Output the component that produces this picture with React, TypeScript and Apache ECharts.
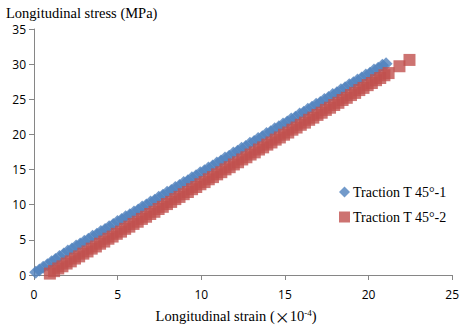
import React, { useEffect, useRef } from "react";
import * as echarts from "echarts";

// Longitudinal strain (×10^-4) and stress (MPa) for the two 45° traction tests
const strainT1 = [
  0.1, 0.32, 0.55, 0.8, 1.05, 1.28, 1.52, 1.78, 2.02, 2.27, 2.52, 2.76, 3.01, 3.25, 3.5, 3.76,
  4.0, 4.25, 4.49, 4.74, 4.99, 5.24, 5.48, 5.73, 5.98, 6.23, 6.47, 6.72, 6.97, 7.22, 7.46, 7.71,
  7.96, 8.21, 8.45, 8.7, 8.95, 9.2, 9.44, 9.69, 9.94, 10.19, 10.43, 10.68, 10.93, 11.18, 11.42,
  11.67, 11.92, 12.17, 12.41, 12.66, 12.91, 13.16, 13.4, 13.65, 13.9, 14.15, 14.39, 14.64, 14.89,
  15.14, 15.38, 15.63, 15.88, 16.13, 16.37, 16.62, 16.87, 17.12, 17.36, 17.61, 17.86, 18.11,
  18.35, 18.6, 18.85, 19.1, 19.34, 19.59, 19.84, 20.09, 20.33, 20.58, 20.83, 21.05,
];
const stressT1 = [
  0.4, 0.72, 1.12, 1.47, 1.9, 2.21, 2.62, 3.0, 3.42, 3.7, 4.12, 4.4, 4.8, 5.09, 5.5, 5.8,
  6.2, 6.48, 6.88, 7.18, 7.6, 7.88, 8.28, 8.56, 8.98, 9.26, 9.68, 9.95, 10.38, 10.64, 11.07, 11.34,
  11.77, 12.03, 12.46, 12.73, 13.16, 13.42, 13.85, 14.12, 14.55, 14.83, 15.23, 15.5, 15.95, 16.21,
  16.63, 16.9, 17.34, 17.6, 18.03, 18.3, 18.73, 18.99, 19.42, 19.68, 20.12, 20.38, 20.8, 21.08,
  21.5, 21.77, 22.19, 22.46, 22.9, 23.16, 23.58, 23.85, 24.29, 24.55, 24.97, 25.24, 25.68, 25.94,
  26.37, 26.63, 27.07, 27.34, 27.76, 28.02, 28.47, 28.72, 29.15, 29.4, 29.83, 30.05,
];
const strainT2 = [
  0.95, 1.2, 1.45, 1.7, 1.95, 2.2, 2.45, 2.7, 2.95, 3.2, 3.45, 3.7, 3.95, 4.2, 4.45, 4.7, 4.95,
  5.2, 5.45, 5.7, 5.95, 6.2, 6.45, 6.7, 6.95, 7.2, 7.45, 7.7, 7.95, 8.2, 8.45, 8.7, 8.95, 9.2,
  9.45, 9.7, 9.95, 10.2, 10.45, 10.7, 10.95, 11.2, 11.45, 11.7, 11.95, 12.2, 12.45, 12.7, 12.95,
  13.2, 13.45, 13.7, 13.95, 14.2, 14.45, 14.7, 14.95, 15.2, 15.45, 15.7, 15.95, 16.2, 16.45,
  16.7, 16.95, 17.2, 17.45, 17.7, 17.95, 18.2, 18.45, 18.7, 18.95, 19.2, 19.45, 19.7, 19.95,
  20.2, 20.45, 20.7, 20.95, 21.2, 21.85, 22.45,
];
const stressT2 = [
  0.2, 0.55, 0.93, 1.24, 1.63, 1.94, 2.34, 2.65, 3.04, 3.35, 3.75, 4.06, 4.45, 4.76, 5.16, 5.47,
  5.86, 6.17, 6.57, 6.88, 7.27, 7.58, 7.98, 8.29, 8.68, 8.99, 9.39, 9.7, 10.09, 10.4, 10.8, 11.11,
  11.5, 11.81, 12.21, 12.52, 12.91, 13.22, 13.62, 13.93, 14.32, 14.63, 15.03, 15.34, 15.73, 16.04,
  16.44, 16.75, 17.14, 17.45, 17.85, 18.16, 18.55, 18.86, 19.26, 19.57, 19.96, 20.27, 20.67,
  20.98, 21.37, 21.68, 22.08, 22.39, 22.78, 23.09, 23.49, 23.8, 24.19, 24.5, 24.9, 25.21, 25.6,
  25.91, 26.31, 26.62, 27.01, 27.32, 27.72, 28.03, 28.42, 28.73, 29.7, 30.6,
];
const seriesNames = ["Traction T 45°-1", "Traction T 45°-2"];
const xTicks = [0, 25, 5];
const yTicks = [0, 35, 5];

const pairs = (xs: number[], ys: number[]) => xs.map((x, i) => [x, ys[i]]);

export default function App() {
  const ref = useRef<HTMLDivElement>(null);

  useEffect(() => {
    if (!ref.current) return;
    const chart = echarts.init(ref.current, undefined, { renderer: "svg" });
    const serif = "'Liberation Serif', 'Times New Roman', serif";
    const tickFont = "'Open Sans', 'Noto Sans', sans-serif";
    const axisColor = "#868686";

    chart.setOption({
      animation: false,
      backgroundColor: "#ffffff",
      title: {
        text: "Longitudinal stress (MPa)",
        left: 1,
        top: 0,
        textStyle: { fontFamily: serif, fontSize: 14.5, fontWeight: "normal", color: "#000" },
      },
      legend: {
        orient: "vertical",
        left: 334,
        top: 180,
        itemWidth: 11,
        itemHeight: 11,
        itemGap: 11,
        textStyle: { fontFamily: serif, fontSize: 14, color: "#000", padding: [0, 0, 0, -2] },
        data: [
          { name: seriesNames[0], icon: "diamond" },
          { name: seriesNames[1], icon: "rect" },
        ],
      },
      grid: { left: 34, right: 9, top: 29, bottom: 60 },
      xAxis: {
        type: "value",
        min: xTicks[0],
        max: xTicks[1],
        interval: xTicks[2],
        name: "{t|Longitudinal strain (}{x|×}{t|10}{s|-4}{t|)}",
        nameLocation: "middle",
        nameGap: 33,
        nameTextStyle: {
          padding: [0, 14, 0, 0],
          rich: {
            t: { fontFamily: serif, fontSize: 14.5, color: "#000" },
            x: { fontFamily: "'Noto Sans CJK SC', sans-serif", fontSize: 15, color: "#000" },
            s: { fontFamily: serif, fontSize: 9, color: "#000", verticalAlign: "top", padding: [0, 0, 7, 0] },
          },
        },
        axisLine: { show: true, lineStyle: { color: axisColor, width: 1 } },
        axisTick: { show: true, inside: false, length: 5, lineStyle: { color: axisColor } },
        axisLabel: { margin: 13, fontFamily: tickFont, fontSize: 12, color: "#000" },
        splitLine: { show: false },
      },
      yAxis: {
        type: "value",
        min: yTicks[0],
        max: yTicks[1],
        interval: yTicks[2],
        axisLine: { show: true, lineStyle: { color: axisColor, width: 1 } },
        axisTick: { show: true, inside: false, length: 5, lineStyle: { color: axisColor } },
        axisLabel: { margin: 8, fontFamily: tickFont, fontSize: 12, color: "#000" },
        splitLine: { show: false },
      },
      series: [
        {
          name: seriesNames[0],
          type: "scatter",
          symbol: "diamond",
          symbolSize: 13,
          itemStyle: { color: "#4F81BD" },
          data: pairs(strainT1, stressT1),
        },
        {
          name: seriesNames[1],
          type: "scatter",
          symbol: "rect",
          symbolSize: 12,
          itemStyle: { color: "#C0504D" },
          data: pairs(strainT2, stressT2),
        },
      ],
    });

    return () => chart.dispose();
  }, []);

  return <div ref={ref} style={{ width: 462, height: 335, position: "absolute", left: 0, top: 0 }} />;
}
